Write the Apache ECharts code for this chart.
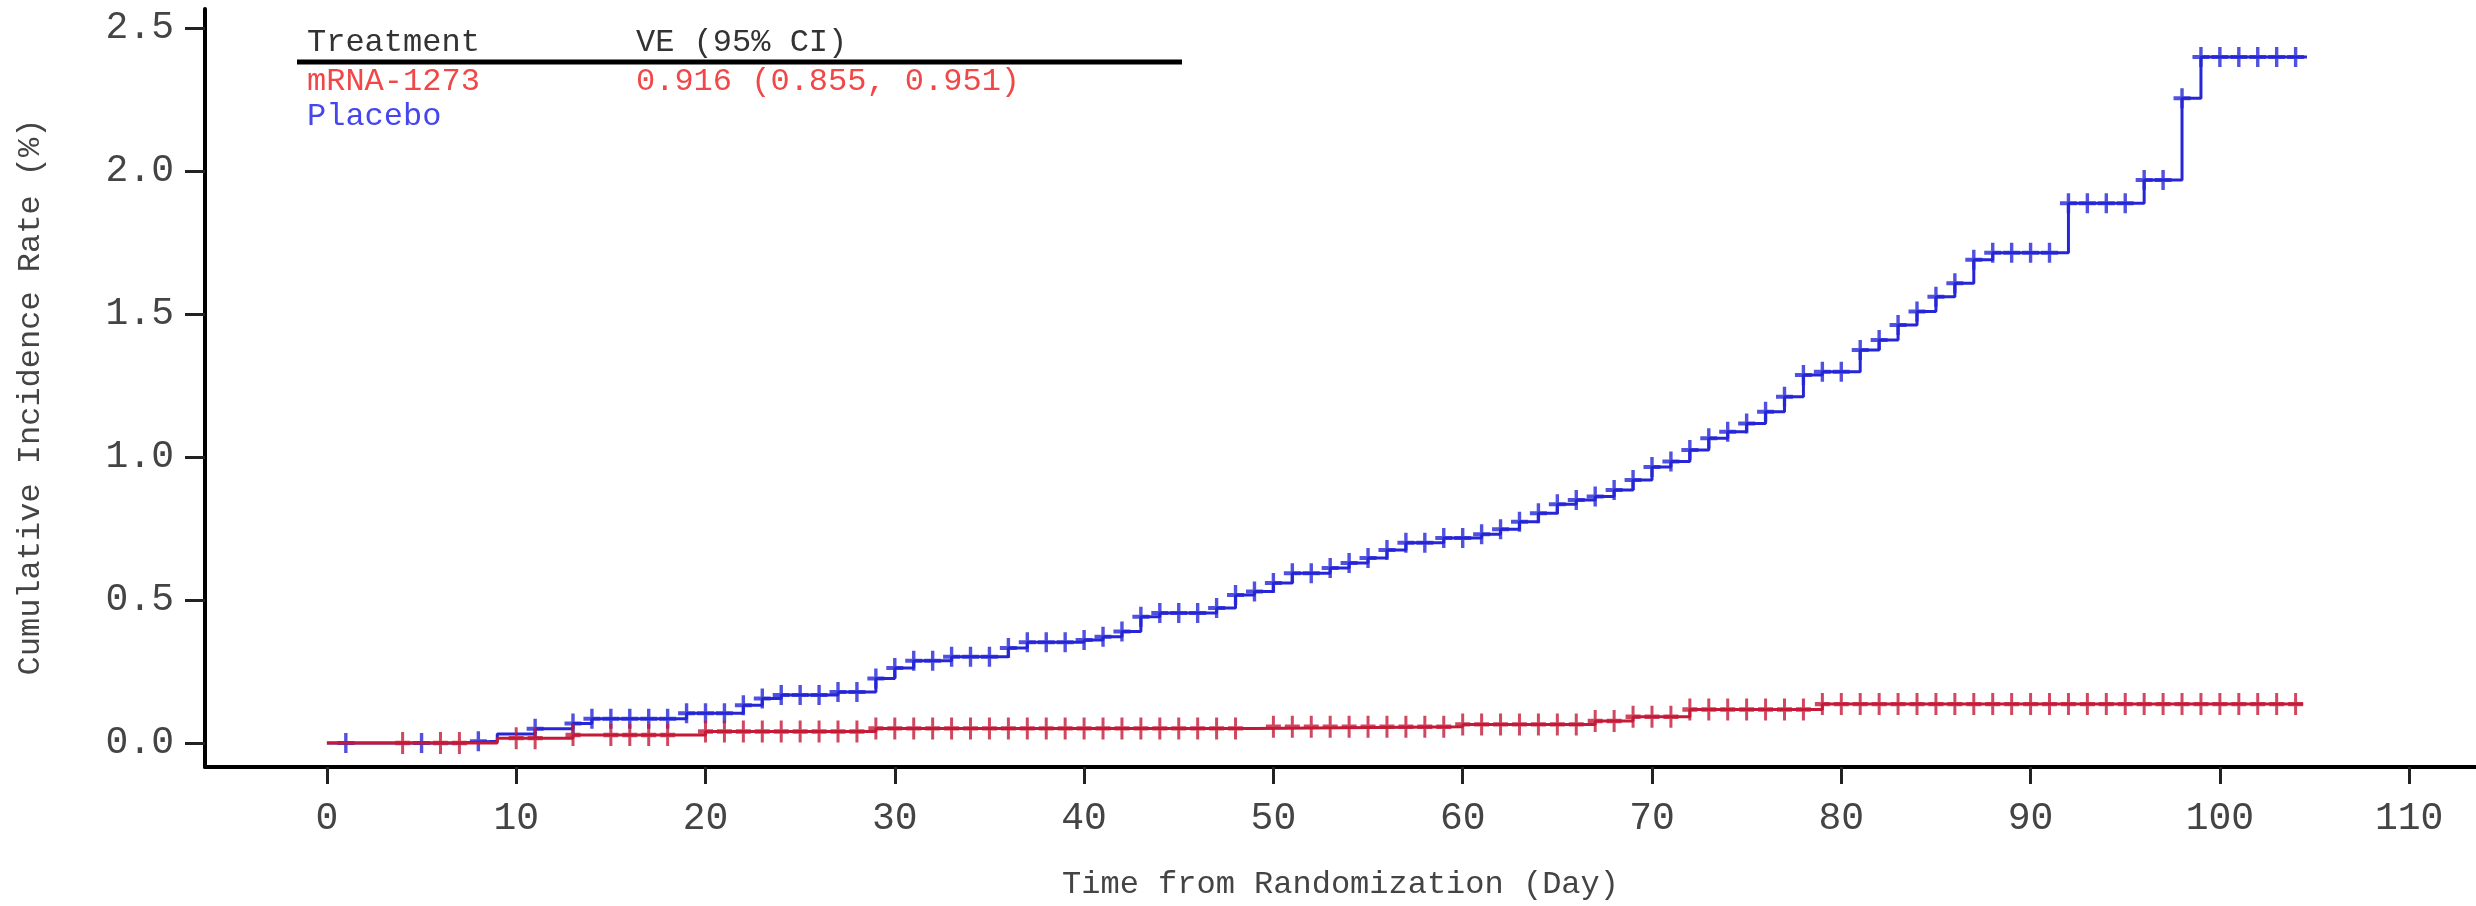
<!DOCTYPE html>
<html>
<head>
<meta charset="utf-8">
<script src="https://cdn.jsdelivr.net/npm/echarts@6.0.0/dist/echarts.min.js"></script>
<style>
  html, body { margin: 0; padding: 0; background: #ffffff; }
  #chart { width: 2476px; height: 906px; }
</style>
</head>
<body>
<div id="chart"></div>
<script>
// ---------------- data ----------------
const xTickValues = [0, 10, 20, 30, 40, 50, 60, 70, 80, 90, 100, 110];
const yTickValues = [0, 0.5, 1.0, 1.5, 2.0, 2.5];

// Placebo: cumulative incidence step changes (day, %)
const placeboDays = [0, 7, 9, 11, 13, 14, 19, 22, 23, 24, 27, 29, 30, 31, 33, 36, 37, 40, 41, 42,
  43, 44, 47, 48, 49, 50, 51, 53, 54, 55, 56, 57, 59, 61, 62, 63, 64, 65, 66, 67,
  68, 69, 70, 71, 72, 73, 74, 75, 76, 77, 78, 79, 81, 82, 83, 84, 85, 86, 87, 88,
  92, 96, 98, 99, 104.6];
const placeboRate = [0, 0.006, 0.031, 0.05, 0.068, 0.085, 0.104, 0.132, 0.156, 0.168,
  0.178, 0.226, 0.262, 0.288, 0.302, 0.332, 0.352, 0.36, 0.372, 0.39,
  0.442, 0.455, 0.472, 0.518, 0.53, 0.56, 0.594, 0.612, 0.63, 0.647,
  0.675, 0.70, 0.717, 0.73, 0.748, 0.774, 0.804, 0.835, 0.85, 0.862,
  0.885, 0.92, 0.965, 0.985, 1.025, 1.066, 1.089, 1.118, 1.159, 1.211,
  1.287, 1.299, 1.375, 1.41, 1.462, 1.509, 1.561, 1.608, 1.69, 1.715,
  1.888, 1.969, 2.255, 2.40, 2.40];
// Placebo censoring times
const placeboCensorDays = [1, 5, 8, 11, 13, 14, 15, 16, 17, 18, 19, 20, 21, 22, 23, 24, 25, 26, 27, 28,
  29, 30, 31, 32, 33, 34, 35, 36, 37, 38, 39, 40, 41, 42, 43, 44, 45, 46, 47, 48,
  49, 50, 51, 52, 53, 54, 55, 56, 57, 58, 59, 60, 61, 62, 63, 64, 65, 66, 67, 68,
  69, 70, 71, 72, 73, 74, 75, 76, 77, 78, 79, 80, 81, 82, 83, 84, 85, 86, 87, 88,
  89, 90, 91, 92, 93, 94, 95, 96, 97, 98, 99, 100, 101, 102, 103, 104];

// mRNA-1273: cumulative incidence step changes (day, %)
const mrnaDays = [0, 9, 13, 20, 29, 49, 60, 67, 69, 72, 79, 104.4];
const mrnaRate = [0, 0.017, 0.028, 0.04, 0.051, 0.057, 0.065, 0.077, 0.092, 0.117, 0.136, 0.136];
// mRNA-1273 censoring times
const mrnaCensorDays = [4, 6, 7, 10, 11, 13, 15, 16, 17, 18, 20, 21, 22, 23, 24, 25, 26, 27, 28, 29,
  30, 31, 32, 33, 34, 35, 36, 37, 38, 39, 40, 41, 42, 43, 44, 45, 46, 47, 48,
  50, 51, 52, 53, 54, 55, 56, 57, 58, 59, 60, 61, 62, 63, 64, 65, 66, 67, 68, 69,
  70, 71, 72, 73, 74, 75, 76, 77, 78, 79, 80, 81, 82, 83, 84, 85, 86, 87, 88, 89,
  90, 91, 92, 93, 94, 95, 96, 97, 98, 99, 100, 101, 102, 103, 104];

const tableHeader = ['Treatment', 'VE (95% CI)'];
const tableRows = [['mRNA-1273', '0.916 (0.855, 0.951)'], ['Placebo', '']];

// ---------------- helpers ----------------
function stepSeriesData(days, rates) {
  return days.map((d, i) => [d, rates[i]]);
}
function valueAt(days, rates, t) {
  let v = rates[0];
  for (let i = 0; i < days.length; i++) { if (days[i] <= t) v = rates[i]; }
  return v;
}
function censorData(cDays, days, rates) {
  return cDays.map(t => [t, valueAt(days, rates, t)]);
}

const FONT = "'Courier New', 'Liberation Mono', monospace";
const BLUE_LINE = '#2626d8';
const RED_LINE = '#c41a38';
const BLUE_TEXT = '#4646ee';
const RED_TEXT = '#f04848';
const LABEL = '#444444';
const PLUS = 'path://M8,0H12V8H20V12H12V20H8V12H0V8H8Z';

const chart = echarts.init(document.getElementById('chart'), null, { renderer: 'canvas' });

const option = {
  animation: false,
  backgroundColor: '#ffffff',
  grid: { left: 205, right: 0, top: 9, bottom: 139, containLabel: false },
  xAxis: {
    type: 'value',
    min: -6.44,
    max: 113.53,
    name: 'Time from Randomization (Day)',
    nameLocation: 'middle',
    nameGap: 102,
    nameTextStyle: { fontFamily: FONT, fontSize: 32, color: LABEL, verticalAlign: 'top' },
    axisLine: { show: true, onZero: false, lineStyle: { color: '#000000', width: 4 } },
    axisTick: { show: true, length: 17, customValues: xTickValues, lineStyle: { color: '#222222', width: 3 } },
    axisLabel: { customValues: xTickValues, margin: 33, fontFamily: FONT, fontSize: 38, color: LABEL },
    splitLine: { show: false }
  },
  yAxis: {
    type: 'value',
    min: -0.084,
    max: 2.5675,
    name: 'Cumulative Incidence Rate (%)',
    nameLocation: 'middle',
    nameGap: 158,
    nameRotate: 90,
    nameTextStyle: { fontFamily: FONT, fontSize: 32, color: LABEL, padding: [0, 18, 0, 0] },
    axisLine: { show: true, onZero: false, lineStyle: { color: '#000000', width: 4 } },
    axisTick: { show: true, length: 20, customValues: yTickValues, lineStyle: { color: '#222222', width: 3 } },
    axisLabel: {
      customValues: yTickValues, margin: 31, fontFamily: FONT, fontSize: 38, color: LABEL,
      formatter: v => Number(v).toFixed(1)
    },
    splitLine: { show: false }
  },
  series: [
    {
      name: 'Placebo', type: 'line', step: 'end', symbol: 'none',
      data: stepSeriesData(placeboDays, placeboRate),
      lineStyle: { color: BLUE_LINE, width: 3 }, z: 2
    },
    {
      name: 'Placebo censored', type: 'scatter', symbol: PLUS, symbolSize: [17, 20],
      data: censorData(placeboCensorDays, placeboDays, placeboRate),
      itemStyle: { color: BLUE_LINE }, z: 3
    },
    {
      name: 'mRNA-1273', type: 'line', step: 'end', symbol: 'none',
      data: stepSeriesData(mrnaDays, mrnaRate),
      lineStyle: { color: RED_LINE, width: 3 }, z: 4
    },
    {
      name: 'mRNA-1273 censored', type: 'scatter', symbol: PLUS, symbolSize: [15, 22],
      data: censorData(mrnaCensorDays, mrnaDays, mrnaRate),
      itemStyle: { color: RED_LINE }, z: 5
    }
  ],
  graphic: [
    { type: 'text', x: 307, y: 43, style: { text: tableHeader[0], font: '32px ' + FONT, fill: '#333333', verticalAlign: 'middle' } },
    { type: 'text', x: 636, y: 43, style: { text: tableHeader[1], font: '32px ' + FONT, fill: '#333333', verticalAlign: 'middle' } },
    { type: 'line', shape: { x1: 297, y1: 62, x2: 1182, y2: 62 }, style: { stroke: '#000000', lineWidth: 5 } },
    { type: 'text', x: 307, y: 82, style: { text: tableRows[0][0], font: '32px ' + FONT, fill: RED_TEXT, verticalAlign: 'middle' } },
    { type: 'text', x: 636, y: 82, style: { text: tableRows[0][1], font: '32px ' + FONT, fill: RED_TEXT, verticalAlign: 'middle' } },
    { type: 'text', x: 307, y: 117, style: { text: tableRows[1][0], font: '32px ' + FONT, fill: BLUE_TEXT, verticalAlign: 'middle' } }
  ]
};

chart.setOption(option);
</script>
</body>
</html>
